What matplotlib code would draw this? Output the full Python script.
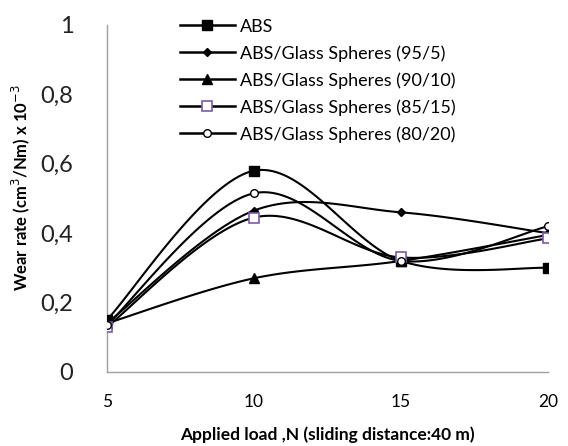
import numpy as np
import matplotlib
matplotlib.use('Agg')
from matplotlib import pyplot as plt
from matplotlib.lines import Line2D

plt.rcParams['font.family'] = ['Lato', 'DejaVu Sans']

loads = [5, 10, 15, 20]
abs_pure = [0.15, 0.58, 0.32, 0.30]
gs_95_5 = [0.14, 0.465, 0.46, 0.40]
gs_90_10 = [0.14, 0.27, 0.32, 0.395]
gs_85_15 = [0.13, 0.445, 0.33, 0.385]
gs_80_20 = [0.135, 0.515, 0.32, 0.42]

labels = ['ABS', 'ABS/Glass Spheres (95/5)', 'ABS/Glass Spheres (90/10)',
          'ABS/Glass Spheres (85/15)', 'ABS/Glass Spheres (80/20)']
PURPLE = '#7a5ca6'


def smooth(xs, ys, n=40):
    # cubic bezier pieces, control points from neighbouring points (spreadsheet style)
    p = np.column_stack([xs, ys]).astype(float)
    ext = np.vstack([p[0], p, p[-1]])
    out = []
    t = np.linspace(0, 1, n)[:, None]
    for i in range(len(p) - 1):
        p0, p1 = ext[i + 1], ext[i + 2]
        c1 = p0 + (ext[i + 2] - ext[i]) / 6.
        c2 = p1 - (ext[i + 3] - ext[i + 1]) / 6.
        seg = (1 - t) ** 3 * p0 + 3 * (1 - t) ** 2 * t * c1 + 3 * (1 - t) * t ** 2 * c2 + t ** 3 * p1
        out.append(seg if i == 0 else seg[1:])
    out = np.vstack(out)
    return out[:, 0], out[:, 1]


series = [
    (abs_pure, dict(marker='s', markersize=7, markerfacecolor='black', markeredgecolor='black')),
    (gs_95_5, dict(marker='D', markersize=4.5, markerfacecolor='black', markeredgecolor='black')),
    (gs_90_10, dict(marker='^', markersize=6.5, markerfacecolor='black', markeredgecolor='black')),
    (gs_85_15, dict(marker='s', markersize=6.5, markerfacecolor='white', markeredgecolor=PURPLE, markeredgewidth=1.2)),
    (gs_80_20, dict(marker='o', markersize=5.5, markerfacecolor='white', markeredgecolor='black', markeredgewidth=1.0)),
]

fig = plt.figure(figsize=(5.68, 4.46), dpi=100)
ax = fig.add_axes([0.188, 0.166, 0.777, 0.778])

handles = []
for (vals, mk), lab in zip(series, labels):
    sx, sy = smooth(loads, vals)
    ax.plot(sx, sy, color='black', lw=1.5, zorder=2)
    ax.plot(loads, vals, linestyle='none', zorder=3, **mk)
    handles.append(Line2D([], [], color='black', lw=1.8, **mk))

ax.set_xlim(5, 20)
ax.set_ylim(0, 1)
ax.set_xticks(loads)
ax.set_yticks([0, 0.2, 0.4, 0.6, 0.8, 1.0])
ax.set_yticklabels(['0', '0,2', '0,4', '0,6', '0,8', '1'], fontsize=17, color='#222222')
ax.set_xticklabels([str(v) for v in loads], fontsize=12.5)
ax.tick_params(length=0)
ax.tick_params(axis='y', pad=24)
ax.tick_params(axis='x', pad=16)
for s in ['top', 'right']:
    ax.spines[s].set_visible(False)
for s in ['left', 'bottom']:
    ax.spines[s].set_color('#a0a0a0')
    ax.spines[s].set_linewidth(1.0)

ax.set_xlabel('Applied load ,N (sliding distance:40 m)', fontsize=12.5, fontweight='bold', labelpad=12)
ax.set_ylabel('Wear rate (cm$^3$/Nm) x 10$^{-3}$', fontsize=12, fontweight='bold', labelpad=8)
ax.yaxis.set_label_coords(-0.17, 0.53)

ax.legend(handles, labels, loc='upper left', bbox_to_anchor=(0.13, 1.065), frameon=False,
          fontsize=13, handlelength=3.0, handletextpad=0.3, labelspacing=0.58)

fig.savefig('out.png', dpi=100)
